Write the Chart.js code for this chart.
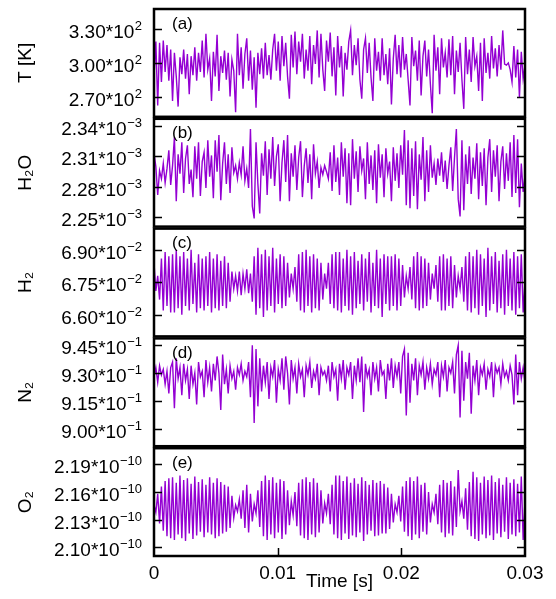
<!DOCTYPE html>
<html>
<head>
<meta charset="utf-8">
<script src="https://cdn.jsdelivr.net/npm/chart.js@4.4.0/dist/chart.umd.min.js"></script>
<style>
  html, body { margin: 0; padding: 0; background: #fff; }
  canvas { display: block; }
</style>
</head>
<body>
<canvas id="fluct" width="556" height="599"></canvas>
<script>
// sampling step of the signals [s]
const dt = 0.00015;

// temperature [K]
const temperature = [
  288, 319, 262, 318, 283, 320, 292, 316, 284, 312,
  266, 309, 288, 261, 305, 290, 312, 286, 308, 272,
  306, 289, 314, 284, 309, 292, 320, 287, 326, 294,
  304, 266, 310, 288, 325, 275, 306, 291, 311, 285,
  309, 270, 303, 293, 256, 326, 289, 314, 277, 308,
  322, 284, 311, 276, 305, 260, 309, 290, 313, 286,
  318, 289, 307, 285, 312, 326, 293, 319, 284, 324,
  297, 318, 288, 268, 325, 296, 328, 290, 319, 301,
  326, 286, 312, 293, 324, 281, 316, 299, 329, 287,
  326, 294, 275, 320, 301, 327, 288, 314, 271, 324,
  296, 315, 270, 309, 294, 319, 329, 289, 316, 298,
  322, 285, 268, 312, 322, 291, 318, 287, 266, 322,
  293, 310, 284, 322, 289, 308, 281, 313, 263, 304,
  325, 290, 316, 287, 323, 294, 308, 285, 262, 323,
  297, 311, 284, 320, 271, 306, 320, 288, 312, 281,
  255, 325, 293, 314, 272, 322, 296, 309, 287, 321,
  289, 324, 272, 311, 292, 318, 285, 259, 323, 290,
  312, 283, 323, 297, 306, 275, 318, 266, 322, 291,
  309, 286, 324, 295, 313, 288, 316, 294, 329, 299,
  298, 300, 294, 283, 315, 287, 312, 269, 310, 286,
  298
];

// H2O mass fraction, units of 1e-6
const h2o = [
  2313, 2300, 2272, 2296, 2288, 2303, 2284, 2298, 2316, 2282,
  2301, 2329, 2266, 2312, 2293, 2324, 2274, 2308, 2321, 2283,
  2297, 2270, 2320, 2288, 2324, 2271, 2305, 2314, 2279, 2326,
  2290, 2311, 2269, 2326, 2295, 2331, 2267, 2303, 2324, 2283,
  2312, 2274, 2319, 2294, 2301, 2288, 2304, 2292, 2320, 2286,
  2298, 2279, 2337, 2261, 2249, 2324, 2283, 2254, 2313, 2291,
  2325, 2272, 2317, 2288, 2329, 2281, 2310, 2322, 2266, 2304,
  2326, 2285, 2331, 2266, 2313, 2290, 2321, 2277, 2309, 2325,
  2270, 2301, 2318, 2284, 2312, 2268, 2322, 2293, 2305, 2279,
  2299, 2292, 2301, 2295, 2288, 2314, 2276, 2321, 2285, 2309,
  2272, 2324, 2290, 2318, 2264, 2313, 2262, 2327, 2288, 2315,
  2275, 2320, 2296, 2308, 2268, 2324, 2283, 2311, 2277, 2316,
  2264, 2322, 2289, 2312, 2270, 2318, 2293, 2305, 2266, 2319,
  2286, 2313, 2279, 2321, 2292, 2336, 2262, 2326, 2259, 2318,
  2271, 2325, 2258, 2312, 2287, 2329, 2266, 2316, 2275, 2321,
  2289, 2303, 2282, 2308, 2291, 2314, 2285, 2306, 2278, 2301,
  2319, 2276, 2309, 2337, 2268, 2251, 2326, 2257, 2312, 2283,
  2320, 2273, 2309, 2288, 2323, 2268, 2314, 2281, 2318, 2262,
  2309, 2327, 2275, 2316, 2290, 2321, 2266, 2305, 2320, 2278,
  2313, 2286, 2324, 2270, 2331, 2274, 2327, 2260, 2303, 2275,
  2292
];

// H2 mass fraction, units of 1e-4
const h2 = [
  684, 671, 678, 667, 686, 662, 689, 664, 687, 661,
  688, 661, 690, 663, 687, 660, 689, 664, 686, 662,
  690, 665, 684, 661, 688, 663, 686, 662, 687, 664,
  689, 661, 686, 663, 688, 662, 685, 664, 687, 663,
  684, 666, 680, 672, 678, 671, 680, 669, 679, 672,
  681, 670, 679, 666, 687, 660, 691, 663, 688, 659,
  690, 662, 687, 664, 691, 661, 686, 665, 688, 663,
  687, 664, 684, 668, 679, 672, 682, 666, 688, 662,
  689, 661, 690, 664, 687, 661, 688, 663, 686, 662,
  684, 667, 679, 672, 684, 665, 688, 663, 689, 662,
  689, 661, 686, 664, 690, 662, 687, 660, 689, 663,
  685, 665, 688, 662, 686, 666, 689, 661, 684, 664,
  690, 663, 686, 659, 688, 665, 687, 662, 687, 664,
  688, 662, 686, 664, 683, 668, 678, 672, 682, 667,
  687, 663, 689, 662, 687, 663, 686, 664, 684, 667,
  679, 672, 683, 666, 687, 662, 688, 662, 686, 664,
  687, 663, 683, 668, 678, 672, 682, 666, 687, 662,
  689, 661, 687, 663, 690, 660, 688, 664, 686, 659,
  691, 662, 687, 665, 689, 661, 685, 663, 688, 660,
  690, 664, 686, 662, 689, 660, 687, 663, 688, 661,
  676
];

// N2 mass fraction, units of 1e-3
const n2 = [
  928, 933, 925, 934, 929, 932, 924, 931, 919, 933,
  936, 911, 938, 927, 933, 918, 935, 926, 932, 916,
  934, 924, 930, 913, 936, 928, 931, 917, 937, 925,
  933, 920, 935, 926, 939, 930, 910, 940, 924, 932,
  919, 934, 927, 931, 921, 933, 929, 935, 926, 931,
  928, 936, 917, 945, 903, 943, 912, 938, 920, 934,
  925, 936, 916, 933, 928, 937, 914, 932, 926, 938,
  921, 939, 930, 913, 937, 927, 933, 919, 935, 928,
  932, 917, 934, 929, 936, 922, 931, 927, 935, 918,
  933, 929, 931, 926, 934, 920, 936, 928, 932, 915,
  935, 927, 937, 921, 933, 929, 936, 916, 934, 926,
  938, 925, 939, 909, 935, 928, 932, 918, 936, 927,
  933, 920, 937, 929, 931, 916, 935, 926, 938, 922,
  934, 928, 936, 919, 939, 943, 907, 941, 914, 935,
  926, 938, 918, 934, 929, 936, 921, 933, 927, 935,
  924, 932, 929, 936, 917, 934, 928, 937, 920, 933,
  930, 936, 919, 940, 945, 906, 942, 915, 936, 927,
  941, 908, 934, 926, 937, 918, 933, 929, 935, 921,
  932, 928, 936, 917, 934, 930, 933, 924, 935, 928,
  931, 926, 934, 929, 913, 940, 918, 936, 927, 933,
  925
];

// O2 mass fraction, units of 1e-13
const o2 = [
  2146, 2138, 2158, 2126, 2166, 2118, 2172, 2112, 2175, 2110,
  2176, 2108, 2170, 2114, 2178, 2110, 2173, 2107, 2175, 2115,
  2169, 2109, 2177, 2113, 2171, 2117, 2174, 2111, 2168, 2116,
  2176, 2114, 2170, 2110, 2175, 2112, 2171, 2115, 2168, 2117,
  2166, 2121, 2156, 2132, 2146, 2139, 2152, 2131, 2162, 2121,
  2168, 2116, 2158, 2128, 2147, 2137, 2162, 2122, 2172, 2112,
  2178, 2108, 2173, 2114, 2176, 2110, 2170, 2116, 2174, 2109,
  2172, 2114, 2162, 2124, 2150, 2135, 2160, 2123, 2170, 2113,
  2174, 2110, 2176, 2108, 2171, 2114, 2175, 2111, 2170, 2116,
  2162, 2126, 2148, 2137, 2158, 2125, 2168, 2114, 2178, 2110,
  2178, 2108, 2172, 2115, 2177, 2109, 2170, 2113, 2175, 2111,
  2169, 2116, 2176, 2107, 2172, 2114, 2168, 2118, 2173, 2112,
  2170, 2113, 2172, 2115, 2169, 2115, 2165, 2120, 2158, 2127,
  2147, 2138, 2156, 2128, 2166, 2117, 2172, 2112, 2176, 2108,
  2172, 2114, 2177, 2110, 2168, 2117, 2170, 2114, 2160, 2127,
  2147, 2138, 2158, 2125, 2168, 2116, 2173, 2111, 2170, 2115,
  2172, 2113, 2166, 2122, 2184, 2139, 2150, 2131, 2164, 2119,
  2171, 2112, 2182, 2109, 2176, 2107, 2170, 2114, 2177, 2110,
  2173, 2113, 2178, 2108, 2171, 2115, 2175, 2111, 2168, 2117,
  2176, 2109, 2170, 2114, 2174, 2112, 2169, 2116, 2177, 2108,
  2152
];

const time = temperature.map((_, i) => +(i * dt).toFixed(5));
const timeTicks = [0, 0.01, 0.02, 0.03];

const tTicks = [270, 300, 330];
const h2oTicks = [2250, 2280, 2310, 2340];
const h2Ticks = [660, 675, 690];
const n2Ticks = [900, 915, 930, 945];
const o2Ticks = [2100, 2130, 2160, 2190];

// top to bottom
const panels = [
  { id: 'yT', tag: '(a)', title: 'T [K]', data: temperature, min: 251, max: 349, ticks: tTicks,
    mant: v => (v / 100).toFixed(2), exp: '2' },
  { id: 'yH2O', tag: '(b)', title: 'H\u2082O', data: h2o, min: 2240, max: 2348, ticks: h2oTicks,
    mant: v => (v / 1000).toFixed(2), exp: '\u22123' },
  { id: 'yH2', tag: '(c)', title: 'H\u2082', data: h2, min: 649.5, max: 700.3, ticks: h2Ticks,
    mant: v => (v / 100).toFixed(2), exp: '\u22122' },
  { id: 'yN2', tag: '(d)', title: 'N\u2082', data: n2, min: 889.9, max: 949.3, ticks: n2Ticks,
    mant: v => (v / 100).toFixed(2), exp: '\u22121' },
  { id: 'yO2', tag: '(e)', title: 'O\u2082', data: o2, min: 2089.5, max: 2208.7, ticks: o2Ticks,
    mant: v => (v / 1000).toFixed(2), exp: '\u221210' }
];

const purple = 'rgb(148, 0, 211)';
const family = "'Liberation Sans', Arial, sans-serif";
Chart.defaults.font.family = family;
Chart.defaults.color = '#000';

const scales = {
  x: {
    type: 'linear', min: 0, max: 0.03,
    afterBuildTicks: s => { s.ticks = timeTicks.map(v => ({ value: v })); },
    afterFit: s => { s.height = 42; },
    grid: { display: false, drawTicks: false },
    border: { display: false },
    ticks: { padding: 5, font: { size: 19 }, maxRotation: 0, autoSkip: false,
      callback: v => v === 0 ? '0' : v.toFixed(2) }
  }
};
// stacked axes fill from the bottom up
panels.slice().reverse().forEach(p => {
  scales[p.id] = {
    type: 'linear', position: 'left', stack: 'panels', stackWeight: 1,
    min: p.min, max: p.max,
    afterBuildTicks: s => { s.ticks = p.ticks.map(v => ({ value: v })); },
    afterFit: s => { s.width = 154; },
    grid: { display: false, drawTicks: false },
    border: { display: false },
    ticks: { display: false },
    title: { display: true, text: p.title, font: { size: 19 }, padding: { top: 14, bottom: 0 } }
  };
});

// keep every trace inside its own panel
const panelClip = {
  id: 'panelClip',
  beforeDatasetDraw(chart, args) {
    const s = chart.scales[args.meta.yAxisID];
    const a = chart.chartArea;
    chart.ctx.save();
    chart.ctx.beginPath();
    chart.ctx.rect(a.left, s.top, a.right - a.left, s.bottom - s.top);
    chart.ctx.clip();
  },
  afterDatasetDraw(chart) { chart.ctx.restore(); }
};

// "m*10^e" label with a raised exponent, right-aligned at xr
function sciLabel(ctx, mant, exp, xr, y) {
  ctx.textAlign = 'right';
  ctx.textBaseline = 'alphabetic';
  ctx.font = '13px ' + family;
  const ew = ctx.measureText(exp).width;
  ctx.fillText(exp, xr, y);
  ctx.font = '19px ' + family;
  ctx.fillText(mant + '*10', xr - ew - 0.5, y + 8);
}

// boxed panels with inward ticks on both sides, tick labels, panel tags and the time label
const frames = {
  id: 'frames',
  afterDraw(chart) {
    const ctx = chart.ctx, a = chart.chartArea;
    ctx.save();
    ctx.strokeStyle = '#000';
    ctx.fillStyle = '#000';
    panels.forEach(p => {
      const s = chart.scales[p.id];
      ctx.lineWidth = 1.5;
      ctx.beginPath();
      p.ticks.forEach(v => {
        const y = Math.round(s.getPixelForValue(v)) + 0.5;
        ctx.moveTo(a.left, y); ctx.lineTo(a.left + 8, y);
        ctx.moveTo(a.right, y); ctx.lineTo(a.right - 8, y);
        sciLabel(ctx, p.mant(v), p.exp, a.left - 12, y);
      });
      ctx.stroke();
      ctx.lineWidth = 2.5;
      ctx.strokeRect(a.left, s.top + 1, a.right - a.left, s.bottom - s.top - 2);
      ctx.font = '17px ' + family;
      ctx.textAlign = 'left';
      ctx.textBaseline = 'middle';
      ctx.fillText(p.tag, a.left + 18, s.top + 16);
    });
    const xs = chart.scales.x;
    ctx.lineWidth = 1.5;
    ctx.beginPath();
    timeTicks.slice(1, -1).forEach(v => {
      const x = Math.round(xs.getPixelForValue(v)) + 0.5;
      ctx.moveTo(x, a.bottom); ctx.lineTo(x, a.bottom - 9);
    });
    ctx.stroke();
    ctx.font = '19px ' + family;
    ctx.textAlign = 'center';
    ctx.textBaseline = 'middle';
    ctx.fillText('Time [s]', xs.getPixelForValue(0.015), a.bottom + 25);
    ctx.restore();
  }
};

new Chart(document.getElementById('fluct'), {
  type: 'line',
  data: {
    labels: time,
    datasets: panels.map(p => ({
      data: p.data,
      yAxisID: p.id,
      borderColor: purple,
      borderWidth: 1.4,
      pointRadius: 0,
      tension: 0
    }))
  },
  options: {
    responsive: false,
    animation: false,
    layout: { padding: { top: 8, right: 31, left: 0, bottom: 0 } },
    plugins: { legend: { display: false }, tooltip: { enabled: false } },
    scales: scales
  },
  plugins: [panelClip, frames]
});
</script>
</body>
</html>
